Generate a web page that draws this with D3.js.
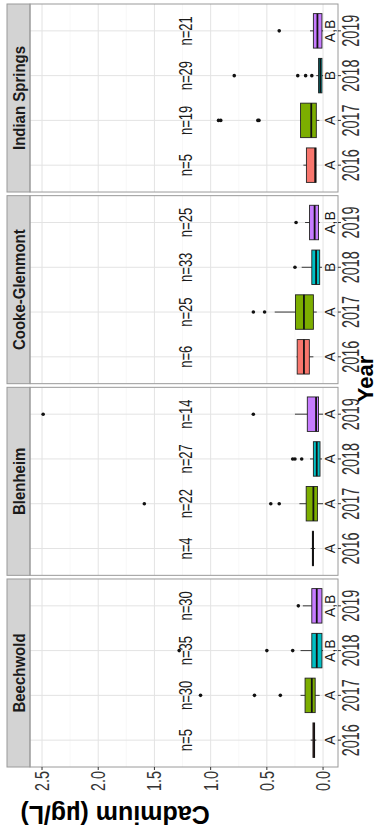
<!DOCTYPE html>
<html>
<head>
<meta charset="utf-8">
<script src="https://cdn.jsdelivr.net/npm/d3@7"></script>
<style>
  body { margin: 0; background: #fff; }
  svg { display: block; }
</style>
</head>
<body>
<script>
// ---- data ----
const sites = ["Beechwold", "Blenheim", "Cooke-Glenmont", "Indian Springs"];
const years = ["2016", "2017", "2018", "2019"];
const yearColors = ["#F8766D", "#7CAE00", "#00BFC4", "#C77CFF"];

// [lower whisker, q1, median, q3, upper whisker] per year
const beechwoldBox = [[0.06, 0.075, 0.08, 0.09, 0.11], [0.03, 0.07, 0.10, 0.16, 0.20], [0.0, 0.01, 0.056, 0.10, 0.20], [0.01, 0.01, 0.056, 0.10, 0.18]];
const blenheimBox = [[0.07, 0.085, 0.09, 0.095, 0.11], [0.0, 0.05, 0.086, 0.15, 0.21], [0.01, 0.027, 0.056, 0.086, 0.116], [0.0, 0.04, 0.062, 0.14, 0.25]];
const cookeBox = [[0.086, 0.122, 0.17, 0.23, 0.235], [0.056, 0.086, 0.17, 0.245, 0.43], [0.01, 0.03, 0.062, 0.10, 0.19], [0.03, 0.04, 0.075, 0.12, 0.16]];
const indianBox = [[0.062, 0.062, 0.07, 0.148, 0.175], [0.033, 0.06, 0.105, 0.20, 0.20], [0.0, 0.01, 0.025, 0.04, 0.06], [0.0, 0.01, 0.05, 0.086, 0.116]];

const beechwoldOut = [[], [0.38, 0.61, 1.09], [0.27, 0.50, 1.28], [0.22]];
const blenheimOut = [[], [0.39, 0.465, 1.59], [0.19, 0.25, 0.27], [0.62, 2.49]];
const cookeOut = [[], [0.52, 0.62], [0.25], [0.24]];
const indianOut = [[], [0.57, 0.58, 0.91, 0.93], [0.10, 0.155, 0.225, 0.79], [0.39]];

const nCounts = [[5, 30, 35, 30], [4, 22, 27, 14], [6, 25, 33, 25], [5, 19, 29, 21]];
const groupLetters = [["A", "A", "A,B", "A,B"], ["A", "A", "A", "A"], ["A", "A", "B", "A,B"], ["A", "A", "B", "A,B"]];

const valueTicks = [0, 0.5, 1, 1.5, 2, 2.5];
const minorTicks = [0.25, 0.75, 1.25, 1.75, 2.25];

const boxStats = [beechwoldBox, blenheimBox, cookeBox, indianBox];
const outliers = [beechwoldOut, blenheimOut, cookeOut, indianOut];

// ---- layout (drawn upright, then turned a quarter turn) ----
const W = 829, H = 377;
const font = "'Liberation Sans', Arial, sans-serif";

const svg = d3.select("body")
    .append("svg")
    .attr("width", H)
    .attr("height", W);

const root = svg.append("g")
    .attr("transform", `translate(0,${W}) rotate(-90)`);

const panelTop = 30, panelBottom = 338, stripTop = 7;

const facet = d3.scaleBand()
    .domain(sites)
    .range([62, 825])
    .paddingInner(0.019);

const x = d3.scalePoint()
    .domain(years)
    .range([0, facet.bandwidth()])
    .padding(0.6);

const y = d3.scaleLinear()
    .domain([-0.133, 2.607])
    .range([panelBottom, panelTop]);

const boxW = x.step() * 0.77;

// text whose height is stretched along the value axis, like the picture
function addText(g, str, tx, ty, size, sy, opts = {}) {
    return g.append("text")
        .attr("transform", `translate(${tx},${ty}) scale(1,${sy})${opts.rotate ? " rotate(" + opts.rotate + ")" : ""}`)
        .attr("text-anchor", opts.anchor || "middle")
        .attr("dominant-baseline", "central")
        .attr("font-family", font)
        .attr("font-size", size)
        .attr("font-weight", opts.bold ? 700 : 400)
        .attr("fill", opts.fill || "#1a1a1a")
        .text(str);
}

sites.forEach((site, si) => {
    const g = root.append("g")
        .attr("transform", `translate(${facet(site)},0)`);
    const pw = facet.bandwidth();

    // grid
    g.selectAll(".minor")
        .data(minorTicks)
        .join("line")
        .attr("x1", 0).attr("x2", pw)
        .attr("y1", d => y(d)).attr("y2", d => y(d))
        .attr("stroke", "#F3F3F3").attr("stroke-width", 0.6);
    g.selectAll(".major")
        .data(valueTicks)
        .join("line")
        .attr("x1", 0).attr("x2", pw)
        .attr("y1", d => y(d)).attr("y2", d => y(d))
        .attr("stroke", "#E3E3E3").attr("stroke-width", 1);
    g.selectAll(".vgrid")
        .data(years)
        .join("line")
        .attr("x1", d => x(d)).attr("x2", d => x(d))
        .attr("y1", panelTop).attr("y2", panelBottom)
        .attr("stroke", "#E3E3E3").attr("stroke-width", 1);

    // strip
    g.append("rect")
        .attr("x", 0).attr("y", stripTop)
        .attr("width", pw).attr("height", panelTop - stripTop)
        .attr("fill", "#D3D3D3").attr("stroke", "#9A9A9A").attr("stroke-width", 1);
    addText(g, site, pw / 2, (stripTop + panelTop) / 2 + 0.5, 15, 1.05, { bold: true });

    // boxes
    const stats = boxStats[si];
    years.forEach((yr, yi) => {
        const [lo, q1, med, q3, hi] = stats[yi];
        const cx = x(yr);
        g.append("line")
            .attr("x1", cx).attr("x2", cx)
            .attr("y1", y(hi)).attr("y2", y(lo))
            .attr("stroke", "#222").attr("stroke-width", 0.9);
        g.append("rect")
            .attr("x", cx - boxW / 2).attr("width", boxW)
            .attr("y", y(q3)).attr("height", Math.max(0.01, y(q1) - y(q3)))
            .attr("fill", yearColors[yi])
            .attr("stroke", "#222").attr("stroke-width", 0.9);
        g.append("line")
            .attr("x1", cx - boxW / 2).attr("x2", cx + boxW / 2)
            .attr("y1", y(med)).attr("y2", y(med))
            .attr("stroke", "#111").attr("stroke-width", 1.8);

        g.selectAll(null)
            .data(outliers[si][yi])
            .join("circle")
            .attr("cx", cx).attr("cy", d => y(d))
            .attr("r", 1.8)
            .attr("fill", "#111");

        addText(g, "n=" + nCounts[si][yi], cx, 186, 13, 1.35);
        addText(g, groupLetters[si][yi], cx, 330, 14, 1.0);
    });

    // panel border
    g.append("rect")
        .attr("x", 0).attr("y", panelTop)
        .attr("width", pw).attr("height", panelBottom - panelTop)
        .attr("fill", "none").attr("stroke", "#9A9A9A").attr("stroke-width", 1);

    // year axis
    g.selectAll(".xtick")
        .data(years)
        .join("line")
        .attr("x1", d => x(d)).attr("x2", d => x(d))
        .attr("y1", panelBottom).attr("y2", panelBottom + 3)
        .attr("stroke", "#333");
    years.forEach(yr => addText(g, yr, x(yr), 351, 14.4, 1.6, { fill: "#333" }));
});

// value axis (left side of the first panel)
const x0 = facet(sites[0]);
root.selectAll(".ytick")
    .data(valueTicks)
    .join("line")
    .attr("x1", x0 - 3).attr("x2", x0)
    .attr("y1", d => y(d)).attr("y2", d => y(d))
    .attr("stroke", "#333");
valueTicks.forEach(v => addText(root, d3.format(".1f")(v), x0 - 4, y(v), 14.4, 1.45, { anchor: "end", fill: "#333" }));

// axis titles
addText(root, "Year", 450, 365, 22, 1.0, { bold: true, fill: "#000" });
addText(root, "Cadmium (\u00b5g/L)", 14, 115, 25, 1.0, { bold: true, fill: "#000", rotate: -90 });
</script>
</body>
</html>
